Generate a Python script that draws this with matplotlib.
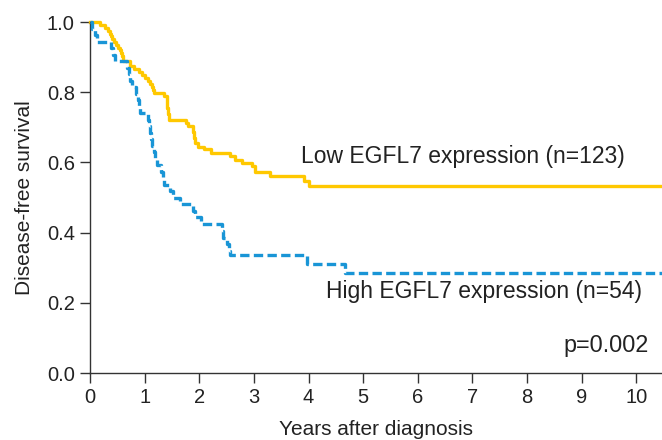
import numpy as np
import matplotlib
matplotlib.use('Agg')
from matplotlib import pyplot as plt

plt.rcParams['font.family'] = ['Liberation Sans', 'DejaVu Sans']

# Low EGFL7 expression (n=123) : step times (years) and survival after each step
low_t = [0, 0.18, 0.27, 0.33, 0.37, 0.39, 0.41, 0.43, 0.47, 0.52, 0.54, 0.56,
         0.58, 0.61, 0.73, 0.81, 0.89, 0.95, 1.01, 1.07, 1.09, 1.13, 1.15, 1.17,
         1.36, 1.40, 1.41, 1.43, 1.45, 1.75, 1.80, 1.88, 1.90, 1.93, 1.98, 2.08,
         2.22, 2.56, 2.65, 2.78, 2.97, 3.02, 3.30, 3.91, 4.00, 10.5]
low_s = [1.0, 0.992, 0.984, 0.975, 0.967, 0.959, 0.951, 0.943, 0.935, 0.927, 0.919, 0.911,
         0.902, 0.888, 0.875, 0.866, 0.858, 0.849, 0.840, 0.832, 0.824, 0.815, 0.807, 0.799,
         0.790, 0.773, 0.756, 0.739, 0.722, 0.713, 0.705, 0.688, 0.671, 0.654, 0.645, 0.637,
         0.628, 0.617, 0.608, 0.598, 0.589, 0.574, 0.560, 0.547, 0.534, 0.534]

# High EGFL7 expression (n=54)
high_t = [0, 0.03, 0.10, 0.13, 0.39, 0.42, 0.45, 0.68, 0.72, 0.74, 0.77, 0.85,
          0.87, 0.89, 0.92, 1.06, 1.08, 1.10, 1.12, 1.14, 1.17, 1.19, 1.22, 1.30,
          1.33, 1.36, 1.47, 1.52, 1.65, 1.89, 1.92, 2.03, 2.41, 2.44, 2.50, 2.54,
          2.57, 3.97, 4.67, 10.5]
high_s = [1.0, 0.981, 0.963, 0.944, 0.926, 0.907, 0.889, 0.870, 0.852, 0.833, 0.815, 0.796,
          0.778, 0.759, 0.741, 0.722, 0.704, 0.685, 0.667, 0.648, 0.630, 0.611, 0.593, 0.574,
          0.556, 0.537, 0.519, 0.500, 0.481, 0.463, 0.444, 0.424, 0.405, 0.386, 0.368, 0.349,
          0.336, 0.312, 0.284, 0.284]

fig = plt.figure(figsize=(6.62, 4.40), dpi=100)
ax = fig.add_axes([0.136, 0.152, 0.864, 0.798])

ax.step(low_t, low_s, where='post', color='#FFC800', lw=2.4, clip_on=False, zorder=2)
ax.step(high_t, high_s, where='post', color='#1995D6', lw=2.4, ls=(0, (2.8, 1.3)),
        clip_on=False, zorder=3)

ax.set_xlim(0, 10.47)
ax.set_ylim(0, 1.0)
ax.set_xticks(range(0, 11))
ax.set_yticks([0.0, 0.2, 0.4, 0.6, 0.8, 1.0])
ax.set_yticklabels(['0.0', '0.2', '0.4', '0.6', '0.8', '1.0'])

for s in ['top', 'right']:
    ax.spines[s].set_visible(False)
for s in ['left', 'bottom']:
    ax.spines[s].set_color('#333333')
    ax.spines[s].set_linewidth(1.0)

ax.tick_params(axis='both', direction='out', length=7, width=1.0, color='#333333',
               labelsize=14.5, labelcolor='#222222', pad=4)

ax.set_xlabel('Years after diagnosis', fontsize=15, color='#222222', labelpad=9)
ax.set_ylabel('Disease-free survival', fontsize=15, color='#222222', labelpad=9)

ax.text(3.87, 0.616, 'Low EGFL7 expression (n=123)', fontsize=16.5, color='#222222',
        ha='left', va='center')
ax.text(4.32, 0.232, 'High EGFL7 expression (n=54)', fontsize=16.5, color='#222222',
        ha='left', va='center')
ax.text(10.22, 0.080, 'p=0.002', fontsize=16.8, color='#222222', ha='right', va='center')

fig.savefig('out.png', dpi=100)
